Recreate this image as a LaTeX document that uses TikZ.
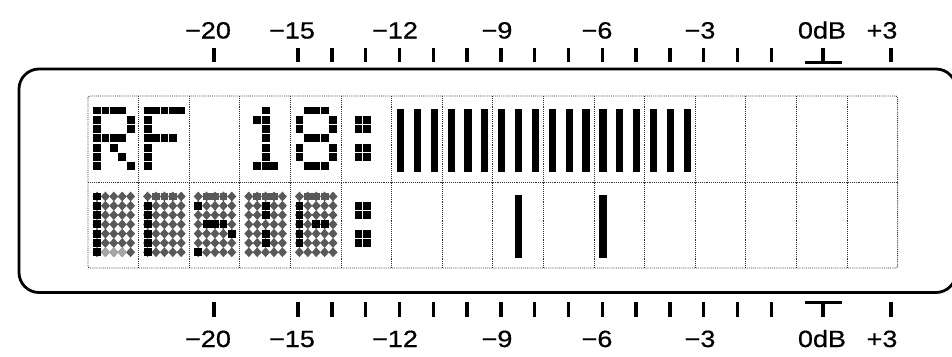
\documentclass[tikz,border=0pt]{standalone}
\usepackage{fontspec}
\setmainfont{Liberation Sans}[FakeStretch=1.15, FakeBold=0.6]

% one lit pixel of the 5x7 matrix: [colour]{cell}{row}{dot column}{dot row}
\newcommand{\lcdpixel}[5][black]{%
  \fill[#1] ({\gx+#2*\cw+9+#4*\px-3.9},{\gy+#3*\rh+14.45+#5*\py-3.9}) rectangle ++(7.8,7.8);}
% one unlit (ghost) pixel, drawn as a diamond
\newcommand{\lcdghost}[5][black!65]{%
  \fill[#1] ({\gx+#2*\cw+9+#4*\px},{\gy+#3*\rh+14.45+#5*\py-4.9})
    -- ++(4.5,4.9) -- ++(-4.5,4.9) -- ++(-4.5,-4.9) -- cycle;}
% one full-height level bar: {cell}{row}{dot column}
\newcommand{\lcdbar}[3]{%
  \fill ({\gx+#1*\cw+9+#3*\px-3.6},{\gy+#2*\rh+12.5}) rectangle ++(7.2,63);}

\begin{document}
\begin{tikzpicture}[x=1pt, y=-1pt,
    frame/.style={line width=2.8pt, rounded corners=20pt},
    cellline/.style={densely dotted, line width=0.9pt, black!80},
    tick/.style={line width=3.4pt},
    dblabel/.style={anchor=base, inner sep=0pt, font=\fontsize{23.5}{26}\selectfont}]
  \useasboundingbox (0,0) rectangle (952,356);

  % LCD geometry
  \def\gx{88}     % left edge of the character grid
  \def\gy{96}     % top edge of the character grid
  \def\cw{50.6}   % width of one character cell
  \def\rh{86}     % height of one row
  \def\px{8.4}    % dot pitch, horizontal
  \def\py{9.3}    % dot pitch, vertical

  % Outer display frame, cut by the right edge
  \begin{scope}
    \clip (0,0) rectangle (952,356);
    \draw[frame] (19,69) rectangle (956,292.5);
  \end{scope}

  % Character cells: 16 columns x 2 rows
  \draw[cellline, rounded corners=2pt] (\gx,\gy) rectangle ({\gx+16*\cw},{\gy+2*\rh});
  \draw[cellline] (\gx,{\gy+\rh}) -- ({\gx+16*\cw},{\gy+\rh});
  \foreach \k in {1,...,15}
    \draw[cellline] ({\gx+\k*\cw},\gy) -- ({\gx+\k*\cw},{\gy+2*\rh});

  % Top row: "RF 18:"
  \foreach \i/\j in {0/0,1/0,2/0,3/0,0/1,4/1,0/2,4/2,0/3,1/3,2/3,3/3,0/4,2/4,0/5,3/5,0/6,4/6}
    \lcdpixel{0}{0}{\i}{\j};
  \foreach \i/\j in {0/0,1/0,2/0,3/0,4/0,0/1,0/2,0/3,1/3,2/3,3/3,0/4,0/5,0/6}
    \lcdpixel{1}{0}{\i}{\j};
  \foreach \i/\j in {2/0,1/1,2/1,2/2,2/3,2/4,2/5,1/6,2/6,3/6}
    \lcdpixel{3}{0}{\i}{\j};
  \foreach \i/\j in {1/0,2/0,3/0,0/1,4/1,0/2,4/2,1/3,2/3,3/3,0/4,4/4,0/5,4/5,1/6,2/6,3/6}
    \lcdpixel{4}{0}{\i}{\j};

  % Colons in both rows
  \foreach \r in {0,1}
    \foreach \i/\j in {1/1,2/1,1/2,2/2,1/4,2/4,1/5,2/5}
      \lcdpixel{5}{\r}{\i}{\j};

  % Top row: level bars
  \foreach \c in {6,...,11}
    \foreach \i in {0,2,4}
      \lcdbar{\c}{0}{\i};

  % Bottom row: peak markers
  \lcdbar{8}{1}{2};
  \lcdbar{10}{1}{0};

  % Bottom row: ghosted characters
  \foreach \c in {0,...,4}
    \foreach \i in {0,...,4}
      \foreach \j in {0,...,6}
        \lcdghost{\c}{1}{\i}{\j};
  \foreach \i in {1,2,3}
    \lcdghost[black!35]{0}{1}{\i}{6};
  \foreach \c in {1,...,4}
    \foreach \i in {1,2,3}
      \lcdpixel[black!65]{\c}{1}{\i}{0};
  \foreach \j in {0,...,6}
    \lcdpixel{0}{1}{0}{\j};
  \foreach \j in {1,...,6}
    \lcdpixel{1}{1}{0}{\j};
  \foreach \i/\j in {0/1,0/6,1/3,2/3,3/3,4/4}
    \lcdpixel{2}{1}{\i}{\j};
  \foreach \i/\j in {2/1,2/2,2/4,2/5}
    \lcdpixel{3}{1}{\i}{\j};
  \foreach \i/\j in {0/1,0/2,0/3,0/4,0/5,2/3,3/3}
    \lcdpixel{4}{1}{\i}{\j};

  % Scale ticks above and below the display
  \foreach \k in {0,...,14} {
    \draw[tick] ({298+33.8*\k},48) -- ({298+33.8*\k},62);
    \draw[tick] ({298+33.8*\k},302) -- ({298+33.8*\k},317);
  }
  \foreach \tx in {214,891} {
    \draw[tick] (\tx,48) -- (\tx,62);
    \draw[tick] (\tx,302) -- (\tx,317);
  }
  % 0dB marks
  \draw[tick] (823,48) -- (823,61);
  \draw[line width=3pt] (805,62) -- (842,62);
  \draw[line width=3pt] (805,302) -- (842,302);
  \draw[tick] (823,303) -- (823,317);

  % Scale labels
  \foreach \lx/\lt in {208/−20, 292/−15, 395/−12, 497/−9, 597/−6, 700/−3, 822/0dB, 882/+3} {
    \node[dblabel] (top\lx) at (\lx,38.5) {\lt};
    \node[dblabel] (bot\lx) at (\lx,347) {\lt};
  }
\end{tikzpicture}
\end{document}
